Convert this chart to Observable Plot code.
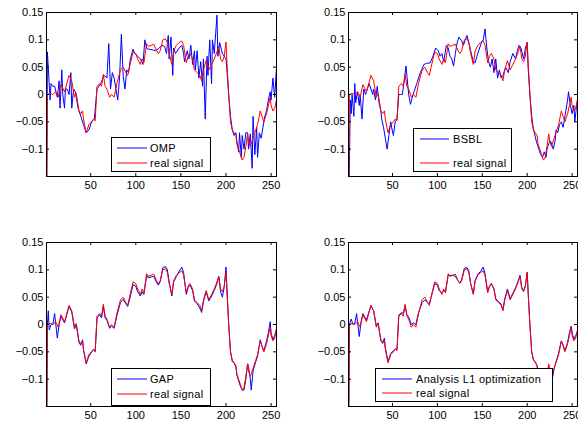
<!DOCTYPE html>
<html>
<head>
<meta charset="utf-8">
<script src="https://cdn.jsdelivr.net/npm/d3@7"></script>
<script src="https://cdn.jsdelivr.net/npm/@observablehq/plot@0.6"></script>
<style>
  html, body { margin: 0; padding: 0; background: #fff; }
  #fig { position: relative; width: 578px; height: 425px; overflow: hidden;
         font-family: "Liberation Sans", Arial, Helvetica, sans-serif; }
  .panel { position: absolute; }
  .panel svg { overflow: visible; max-width: none !important; }
  .legend { position: absolute; background: #fff; border: 1px solid #000; box-sizing: border-box; }
  .legend svg { position: absolute; left: 0; top: 0; overflow: visible; }
</style>
</head>
<body>
<div id="fig"></div>
<script>
// Sample index axis and value axis shared by all four panels
const xDomain = [1, 256];
const yDomain = [-0.15, 0.15];
const xTicks = [50, 100, 150, 200, 250];
const xTickLabels = ["50", "100", "150", "200", "250"];
const yTicks = [-0.1, -0.05, 0, 0.05, 0.1, 0.15];
const yTickLabels = ["\u22120.1", "\u22120.05", "0", "0.05", "0.1", "0.15"];

// Original (real) signal
const realX = [1,2,5,8,11,14,17,21,26,29,32,34,37,39,41,42,45,48,51,53,55,57,60,62,64,66,68,71,73,76,79,83,86,89,91,93,97,100,102,105,107,109,112,114,117,120,123,125,127,130,133,135,137,140,142,145,148,151,153,156,158,160,163,165,168,171,173,175,178,181,184,187,190,192,194,196,198,200,201,203,205,207,209,211,212,214,216,218,220,222,224,225,227,230,233,235,238,240,242,245,247,249,250,252,254,256];
const realY = [-0.25,0.0,0.002,0.0,0.005,-0.005,0.018,0.005,0.035,0.025,-0.005,0.002,-0.03,-0.035,-0.03,-0.045,-0.07,-0.055,-0.05,-0.045,-0.048,0.015,0.02,0.015,0.037,0.015,0.01,-0.005,0.0,-0.005,0.02,0.045,0.05,0.04,0.035,0.05,0.078,0.075,0.065,0.055,0.065,0.058,0.093,0.088,0.09,0.092,0.08,0.075,0.08,0.1,0.102,0.095,0.075,0.055,0.08,0.09,0.095,0.098,0.09,0.058,0.07,0.075,0.065,0.045,0.04,0.035,0.025,0.045,0.062,0.045,0.055,0.065,0.078,0.088,0.065,0.06,0.07,0.096,0.06,0.0,-0.05,-0.065,-0.07,-0.075,-0.09,-0.1,-0.11,-0.12,-0.115,-0.095,-0.072,-0.085,-0.095,-0.08,-0.065,-0.055,-0.03,-0.04,-0.05,-0.035,-0.02,-0.005,-0.02,-0.03,-0.025,-0.01];

// OMP reconstruction
const ompX = [1,2,5,6,8,10,13,15,16,18,19,21,22,24,26,28,29,31,33,36,39,42,45,48,51,54,57,61,65,68,70,72,74,76,78,80,82,84,86,88,90,92,94,97,99,102,105,108,110,112,114,118,122,126,129,132,134,136,137,139,141,142,144,148,151,153,154,157,159,161,163,165,166,168,170,172,174,175,177,179,180,182,184,185,187,190,191,193,196,200,201,203,205,207,209,211,212,214,215,217,218,220,222,224,225,227,229,230,232,234,235,237,239,241,243,245,247,249,250,252,254,256];
const ompY = [-0.25,0.078,-0.01,0.02,0.015,0.015,-0.005,0.025,-0.025,0.045,0.0,-0.025,0.01,0.01,0.0,0.04,-0.025,0.01,0.005,-0.025,-0.04,-0.055,-0.07,-0.065,-0.05,-0.045,0.01,0.02,0.035,0.03,0.093,0.01,0.04,0.03,0.01,-0.01,0.03,0.11,0.035,0.01,0.045,0.04,0.065,0.083,0.075,0.07,0.065,0.055,0.1,0.085,0.083,0.082,0.08,0.085,0.09,0.088,0.075,0.108,0.065,0.105,0.035,0.085,0.075,0.085,0.09,0.075,0.06,0.08,0.065,0.09,0.055,0.08,0.045,0.08,0.03,0.06,0.015,0.065,-0.045,0.07,0.035,0.1,0.02,0.1,0.075,0.145,0.07,0.095,0.075,0.065,0.045,0.0,-0.04,-0.065,-0.075,-0.07,-0.085,-0.105,-0.07,-0.115,-0.075,-0.1,-0.07,-0.07,-0.1,-0.072,-0.135,-0.04,-0.11,-0.06,-0.115,-0.07,-0.08,-0.06,-0.04,-0.03,-0.01,0.005,-0.01,0.03,-0.005,0.05];

// BSBL reconstruction
const bsblX = [1,3,4,5,7,8,9,11,13,14,16,18,20,22,24,26,28,29,31,33,35,37,38,40,42,44,46,48,49,51,53,55,57,59,61,63,65,66,68,70,72,74,77,81,85,88,92,95,98,101,103,105,107,110,112,114,116,118,120,122,124,127,129,131,133,135,137,140,142,144,146,149,151,153,155,157,159,161,163,165,167,169,171,173,176,179,181,184,187,189,191,193,196,198,200,201,203,205,207,208,210,213,215,217,219,221,222,224,226,229,231,232,234,236,238,240,242,243,245,246,248,250,252,253,255,256];
const bsblY = [-0.25,-0.01,-0.035,0.0,-0.04,0.02,-0.015,0.005,-0.02,0.0,-0.045,0.01,0.0,0.01,0.02,0.01,0.0,0.01,-0.01,0.015,-0.015,-0.03,-0.045,-0.06,-0.08,-0.1,-0.075,-0.05,-0.06,-0.075,-0.05,-0.045,0.0,0.0,0.0,0.025,0.052,0.035,0.0,-0.018,-0.005,0.005,0.02,0.04,0.055,0.057,0.058,0.07,0.085,0.08,0.07,0.075,0.06,0.09,0.085,0.07,0.065,0.052,0.075,0.095,0.105,0.098,0.09,0.1,0.108,0.095,0.08,0.06,0.058,0.07,0.08,0.095,0.1,0.12,0.085,0.06,0.05,0.065,0.04,0.065,0.03,0.045,0.03,0.035,0.05,0.04,0.06,0.075,0.065,0.08,0.09,0.085,0.065,0.085,0.095,0.05,0.0,-0.04,-0.065,-0.07,-0.085,-0.1,-0.11,-0.115,-0.105,-0.115,-0.1,-0.09,-0.085,-0.1,-0.085,-0.065,-0.07,-0.055,-0.05,-0.06,-0.04,-0.03,-0.01,0.005,-0.02,-0.035,-0.02,-0.05,-0.02,-0.01];

// GAP reconstruction
const gapX = [1,2,3,4,6,8,10,11,13,15,17,21,26,29,32,34,37,39,41,42,45,48,51,53,55,57,60,62,64,66,68,71,73,76,79,83,86,89,91,93,97,100,102,105,107,109,112,114,117,120,123,125,127,130,133,135,137,140,142,145,148,151,153,156,158,160,163,165,168,171,173,175,178,181,184,187,190,192,194,196,198,200,201,203,205,207,209,211,212,214,216,218,220,222,224,225,227,228,230,233,235,238,240,242,245,247,249,250,252,254,256];
const gapY = [-0.25,0.0,0.025,-0.01,0.0,0.0,0.02,0.005,-0.025,0.0,0.015,0.003,0.033,0.023,-0.008,0.0,-0.033,-0.038,-0.028,-0.047,-0.072,-0.058,-0.05,-0.047,-0.05,0.012,0.018,0.012,0.033,0.012,0.008,-0.007,-0.003,-0.007,0.016,0.04,0.046,0.038,0.033,0.045,0.073,0.07,0.06,0.052,0.06,0.055,0.09,0.085,0.087,0.088,0.077,0.072,0.078,0.104,0.106,0.1,0.078,0.052,0.078,0.088,0.097,0.105,0.095,0.055,0.068,0.072,0.062,0.043,0.038,0.03,0.022,0.042,0.06,0.043,0.052,0.062,0.075,0.088,0.06,0.05,0.068,0.105,0.07,0.0,-0.05,-0.068,-0.07,-0.078,-0.092,-0.103,-0.113,-0.12,-0.12,-0.1,-0.072,-0.078,-0.1,-0.12,-0.085,-0.068,-0.058,-0.028,-0.04,-0.048,-0.03,-0.015,0.005,-0.015,-0.028,-0.02,-0.008];

// Analysis L1 optimization reconstruction
const l1X = [1,2,4,6,8,10,11,13,15,17,21,26,29,32,34,37,39,41,42,45,48,51,53,55,57,60,62,64,66,68,71,73,76,79,83,86,89,91,93,97,100,102,105,107,109,112,114,117,120,123,125,127,130,133,135,137,140,142,145,148,151,153,156,158,160,163,165,168,171,173,175,178,181,184,187,190,192,194,196,198,200,201,203,205,207,209,211,212,214,216,218,220,222,224,225,227,228,230,233,235,238,240,242,245,247,249,250,252,254,256];
const l1Y = [-0.25,0.0,0.01,0.0,0.002,0.02,0.005,-0.022,0.005,0.02,0.008,0.035,0.025,-0.003,0.003,-0.028,-0.033,-0.025,-0.042,-0.068,-0.053,-0.048,-0.045,-0.045,0.017,0.022,0.02,0.035,0.018,0.014,0.0,0.003,0.0,0.022,0.04,0.045,0.04,0.038,0.05,0.075,0.072,0.062,0.058,0.062,0.06,0.09,0.09,0.09,0.088,0.08,0.076,0.082,0.103,0.104,0.098,0.075,0.056,0.08,0.092,0.097,0.105,0.093,0.06,0.07,0.075,0.065,0.047,0.042,0.037,0.027,0.047,0.065,0.047,0.057,0.067,0.08,0.09,0.067,0.062,0.072,0.095,0.06,0.0,-0.05,-0.065,-0.068,-0.075,-0.09,-0.1,-0.11,-0.118,-0.113,-0.095,-0.075,-0.085,-0.095,-0.1,-0.08,-0.063,-0.052,-0.03,-0.038,-0.048,-0.033,-0.015,-0.003,-0.015,-0.027,-0.02,-0.012];

const methodNames = ["OMP", "BSBL", "GAP", "Analysis L1 optimization"];
const realName = "real signal";
const blue = "#0000ff";
const red = "#ff0000";

const zip = (xs, ys) => xs.map((x, i) => ({x, y: ys[i]}));
const realData = zip(realX, realY);

const fig = document.getElementById("fig");

// Inward tick lengths (3 px) expressed in each scale's units
const tickLenX = (xDomain[1] - xDomain[0]) * 3 / 229;
const tickLenY = (yDomain[1] - yDomain[0]) * 3 / 164;

function drawPanel({left, top, marginLeft, marginRight, width, recon, legendBox}) {
  const chart = Plot.plot({
    width, height: 200,
    marginLeft, marginRight, marginTop: 12, marginBottom: 24,
    style: {fontFamily: "Liberation Sans, Arial, Helvetica, sans-serif", fontSize: "11px", color: "#000", background: "transparent", maxWidth: "none"},
    x: {domain: xDomain, ticks: xTicks, tickSize: 0, tickPadding: 5, label: null,
        tickFormat: d => xTickLabels[xTicks.indexOf(d)]},
    y: {domain: yDomain, ticks: yTicks, tickSize: 0, tickPadding: 3, label: null,
        tickFormat: d => yTickLabels[yTicks.indexOf(d)]},
    marks: [
      Plot.line(recon, {x: "x", y: "y", stroke: blue, strokeWidth: 1, clip: true}),
      Plot.line(realData, {x: "x", y: "y", stroke: red, strokeWidth: 1, clip: true}),
      // inward ticks on all four sides
      Plot.ruleX(xTicks, {x: d => d, y1: yDomain[0], y2: yDomain[0] + tickLenY, stroke: "#000"}),
      Plot.ruleX(xTicks, {x: d => d, y1: yDomain[1], y2: yDomain[1] - tickLenY, stroke: "#000"}),
      Plot.ruleY(yTicks, {y: d => d, x1: xDomain[0], x2: xDomain[0] + tickLenX, stroke: "#000"}),
      Plot.ruleY(yTicks, {y: d => d, x1: xDomain[1], x2: xDomain[1] - tickLenX, stroke: "#000"}),
      Plot.frame({stroke: "#000"})
    ]
  });
  const holder = document.createElement("div");
  holder.className = "panel";
  holder.style.left = left + "px";
  holder.style.top = top + "px";
  holder.style.width = width + "px";
  holder.appendChild(chart);
  fig.appendChild(holder);

  // legend box
  const b = legendBox;
  const lg = d3.select(fig).append("div").attr("class", "legend")
    .style("left", b.left + "px").style("top", b.top + "px")
    .style("width", b.width + "px").style("height", b.height + "px");
  const svg = lg.append("svg").attr("width", b.width).attr("height", b.height);
  [[b.label, blue, b.row1], [realName, red, b.row2]].forEach(([label, color, y]) => {
    svg.append("line").attr("x1", b.line0).attr("x2", b.line1)
      .attr("y1", y).attr("y2", y).attr("stroke", color).attr("stroke-width", 1);
    svg.append("text").attr("x", b.text).attr("y", y).attr("dy", "0.36em")
      .attr("font-size", 11).attr("letter-spacing", "0.3px")
      .attr("font-family", "Liberation Sans, Arial, Helvetica, sans-serif")
      .attr("fill", "#000").text(label);
  });
}

drawPanel({left: 0, top: 0, width: 290, marginLeft: 46, marginRight: 14, recon: zip(ompX, ompY),
  legendBox: {left: 111, top: 137, width: 100, height: 35, label: methodNames[0], row1: 10, row2: 25, line0: 5, line1: 35, text: 38}});
drawPanel({left: 290, top: 0, width: 302, marginLeft: 58, marginRight: 15, recon: zip(bsblX, bsblY),
  legendBox: {left: 413, top: 128, width: 99, height: 44, label: methodNames[1], row1: 10, row2: 34, line0: 6, line1: 35, text: 39}});
drawPanel({left: 0, top: 230, width: 290, marginLeft: 46, marginRight: 14, recon: zip(gapX, gapY),
  legendBox: {left: 111, top: 368, width: 100, height: 38, label: methodNames[2], row1: 10, row2: 25, line0: 5, line1: 35, text: 38}});
drawPanel({left: 290, top: 230, width: 302, marginLeft: 58, marginRight: 15, recon: zip(l1X, l1Y),
  legendBox: {left: 375, top: 368, width: 178, height: 34, label: methodNames[3], row1: 10, row2: 24, line0: 6, line1: 36, text: 40}});
</script>
</body>
</html>
